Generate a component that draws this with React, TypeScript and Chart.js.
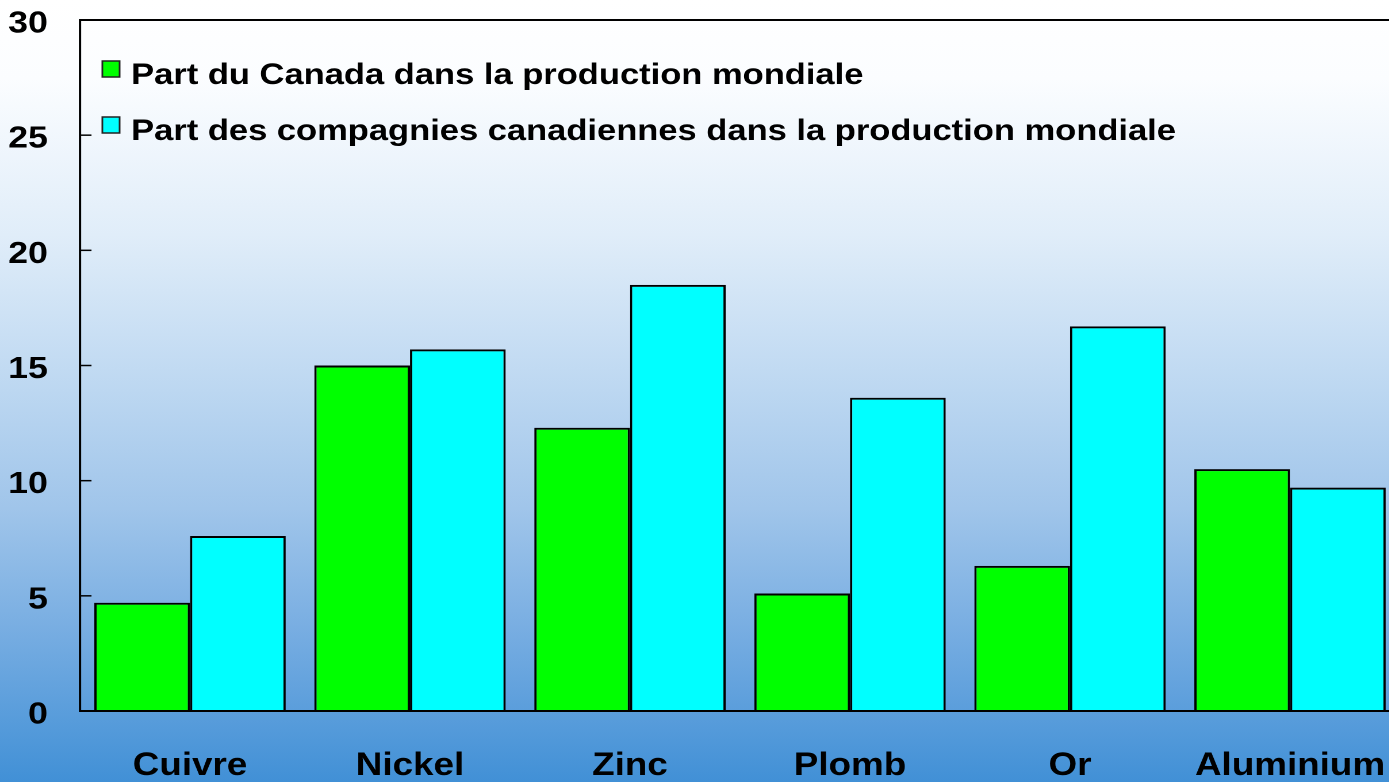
import React, { useEffect, useRef } from "react";
import { Chart, registerables } from "chart.js";

Chart.register(...registerables);

const categories = ["Cuivre", "Nickel", "Zinc", "Plomb", "Or", "Aluminium"];
const canadaShare = [4.7, 15.0, 12.3, 5.1, 6.3, 10.5];
const companiesShare = [7.6, 15.7, 18.5, 13.6, 16.7, 9.7];
const seriesLabels = [
  "Part du Canada dans la production mondiale",
  "Part des compagnies canadiennes dans la production mondiale",
];
const seriesColors = ["#00ff00", "#00ffff"];
const yTicks = [0, 5, 10, 15, 20, 25, 30];

const STRETCH = 1.15;
const W = 1240;
const H = 782;
const FONT = "'Liberation Sans', Arial, Helvetica, sans-serif";
const PLOT_LEFT = 80 / STRETCH;
const PLOT_RIGHT = 1400 / STRETCH;
const PLOT_TOP = 20;
const PLOT_BOTTOM = 711;

const framePlugin = {
  id: "frame",
  afterDatasetsDraw(chart: any) {
    const { ctx, chartArea, scales } = chart;
    ctx.save();
    ctx.strokeStyle = "#000";
    ctx.lineWidth = 2;
    ctx.strokeRect(chartArea.left, chartArea.top, chartArea.right - chartArea.left, chartArea.bottom - chartArea.top);
    ctx.lineWidth = 1.5;
    for (const v of yTicks) {
      const y = scales.y.getPixelForValue(v);
      ctx.beginPath();
      ctx.moveTo(chartArea.left, y);
      ctx.lineTo(chartArea.left + 10, y);
      ctx.stroke();
    }
    ctx.restore();
  },
  afterDraw(chart: any) {
    const { ctx } = chart;
    const rows = [
      { boxTop: 61, baseline: 84 },
      { boxTop: 117, baseline: 140 },
    ];
    ctx.save();
    ctx.font = `bold 30px ${FONT}`;
    ctx.textBaseline = "alphabetic";
    ctx.textAlign = "left";
    chart.data.datasets.forEach((ds: any, i: number) => {
      const r = rows[i];
      ctx.fillStyle = ds.backgroundColor;
      ctx.fillRect(89, r.boxTop, 15, 16);
      ctx.strokeStyle = "#222";
      ctx.lineWidth = 1.5;
      ctx.strokeRect(89, r.boxTop, 15, 16);
      ctx.fillStyle = "#000";
      ctx.fillText(ds.label, 114, r.baseline);
    });
    ctx.restore();
  },
};

export default function App() {
  const ref = useRef<HTMLCanvasElement>(null);
  useEffect(() => {
    const chart = new Chart(ref.current as HTMLCanvasElement, {
      type: "bar",
      data: {
        labels: categories,
        datasets: [
          {
            label: seriesLabels[0],
            data: canadaShare,
            backgroundColor: seriesColors[0],
            borderColor: "#000",
            borderWidth: 2,
            categoryPercentage: 0.87,
            barPercentage: 1,
          },
          {
            label: seriesLabels[1],
            data: companiesShare,
            backgroundColor: seriesColors[1],
            borderColor: "#000",
            borderWidth: 2,
            categoryPercentage: 0.87,
            barPercentage: 1,
          },
        ],
      },
      options: {
        animation: false,
        responsive: false,
        devicePixelRatio: 2,
        layout: { padding: { top: PLOT_TOP, left: 0, right: W - PLOT_RIGHT, bottom: 0 } },
        plugins: { legend: { display: false }, tooltip: { enabled: false } },
        scales: {
          x: {
            grid: { display: false, drawTicks: false },
            border: { display: false },
            ticks: {
              color: "#000",
              font: { family: FONT, size: 32, weight: "bold" },
              padding: 36,
              maxRotation: 0,
              autoSkip: false,
            },
            afterFit(scale: any) {
              scale.height = H - PLOT_BOTTOM;
              scale.paddingLeft = 0;
              scale.paddingRight = 0;
            },
          },
          y: {
            min: 0,
            max: 30,
            grid: { display: false, drawTicks: false },
            border: { display: false },
            afterBuildTicks(scale: any) {
              scale.ticks = yTicks.map((v) => ({ value: v }));
            },
            ticks: {
              color: "#000",
              font: { family: FONT, size: 31, weight: "bold" },
              padding: 28,
              labelOffset: 4,
            },
            afterFit(scale: any) {
              scale.width = PLOT_LEFT;
              scale.paddingTop = 0;
              scale.paddingBottom = 0;
            },
          },
        },
      },
      plugins: [framePlugin],
    });
    return () => chart.destroy();
  }, []);

  return (
    <div
      style={{
        position: "fixed",
        left: 0,
        top: 0,
        width: 1389,
        height: 782,
        overflow: "hidden",
        background:
          "linear-gradient(to bottom, #ffffff 0%, #fbfdff 10%, #e0edf9 30%, #bcd7f1 50%, #a0c5ea 65%, #79aee2 80%, #4190d6 100%)",
      }}
    >
      <div style={{ width: W, height: H, transform: `scaleX(${STRETCH})`, transformOrigin: "0 0" }}>
        <canvas ref={ref} width={W} height={H} style={{ display: "block", width: W, height: H }} />
      </div>
    </div>
  );
}
